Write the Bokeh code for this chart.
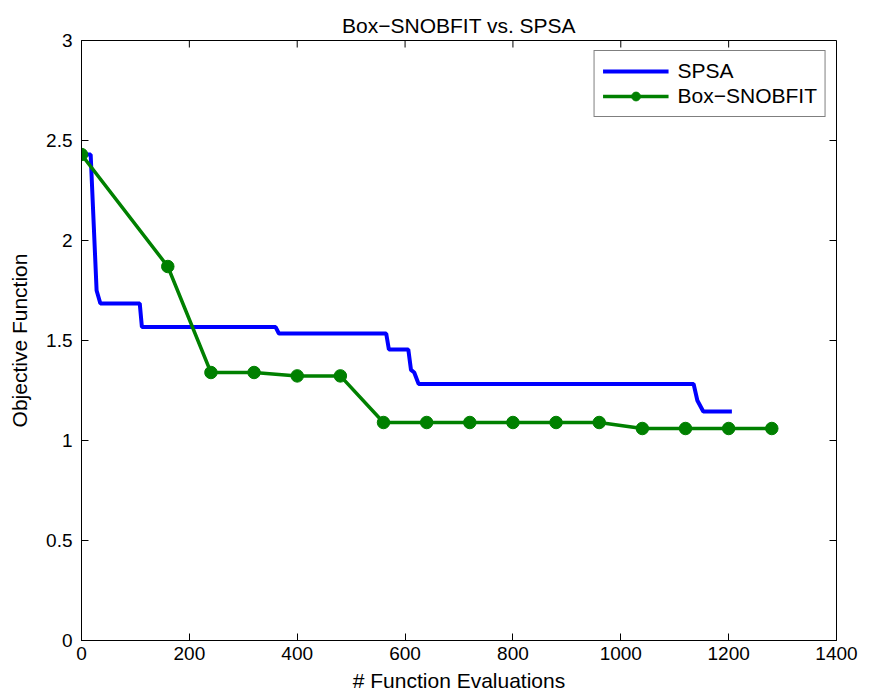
from bokeh.plotting import figure
from bokeh.models import Range1d, FixedTicker, Legend, LegendItem
from bokeh.embed import file_html
from bokeh.resources import INLINE

# SPSA curve (function evaluations vs objective)
spsa_x = [0, 17, 28, 35, 108, 112, 360, 366, 565, 570, 606, 611, 617, 625, 1135, 1142, 1153, 1206]
spsa_y = [2.43, 2.43, 1.75, 1.685, 1.685, 1.567, 1.567, 1.535, 1.535, 1.455, 1.455, 1.353, 1.34, 1.283, 1.283, 1.20, 1.145, 1.145]

# Box-SNOBFIT curve
snob_x = [0, 160, 240, 320, 400, 480, 560, 640, 720, 800, 880, 960, 1040, 1120, 1200, 1280]
snob_y = [2.43, 1.87, 1.34, 1.34, 1.323, 1.323, 1.09, 1.09, 1.09, 1.09, 1.09, 1.09, 1.06, 1.06, 1.06, 1.06]

x_ticks = [0, 200, 400, 600, 800, 1000, 1200, 1400]
y_ticks = [0, 0.5, 1, 1.5, 2, 2.5, 3]
y_tick_labels = {0: "0", 0.5: "0.5", 1: "1", 1.5: "1.5", 2: "2", 2.5: "2.5", 3: "3"}

FONT = "Liberation Sans"
X_MAX, Y_MAX = 1400, 3

p = figure(width=870, height=698, output_backend="svg", toolbar_location=None,
           x_range=Range1d(0, X_MAX), y_range=Range1d(0, Y_MAX),
           min_border_left=81, min_border_right=34, min_border_top=40, min_border_bottom=58,
           title="Box−SNOBFIT vs. SPSA")

p.title.align = "center"
p.title.text_font = FONT
p.title.text_font_size = "21px"
p.title.text_font_style = "normal"
p.title.text_color = "black"
p.title.offset = 0
p.title.standoff = 7

p.xgrid.visible = False
p.ygrid.visible = False
p.outline_line_color = "black"
p.outline_line_width = 1
p.background_fill_color = "white"
p.border_fill_color = "white"

for ax in (p.xaxis[0], p.yaxis[0]):
    ax.major_tick_in = 7
    ax.major_tick_out = 0
    ax.minor_tick_in = 0
    ax.minor_tick_out = 0
    ax.axis_line_color = "black"
    ax.major_tick_line_color = "black"
    ax.major_label_text_font = FONT
    ax.major_label_text_font_size = "19px"
    ax.major_label_text_color = "black"
    ax.axis_label_text_font = FONT
    ax.axis_label_text_font_size = "21px"
    ax.axis_label_text_font_style = "normal"
    ax.axis_label_text_color = "black"

p.xaxis[0].ticker = FixedTicker(ticks=x_ticks)
p.yaxis[0].ticker = FixedTicker(ticks=y_ticks)
p.yaxis[0].major_label_overrides = y_tick_labels
p.xaxis[0].axis_label = "# Function Evaluations"
p.yaxis[0].axis_label = "Objective Function"
p.xaxis[0].major_label_standoff = 6
p.xaxis[0].axis_label_standoff = 6
p.yaxis[0].major_label_standoff = 9
p.yaxis[0].axis_label_standoff = 12

# inward ticks on the top and right edges of the box (derived from the tick lists)
tick_len_y = 7 / 200.0   # about 7 px in y units
tick_len_x = 7 / 0.54    # about 7 px in x units
p.segment(x0=x_ticks, y0=[Y_MAX] * len(x_ticks), x1=x_ticks, y1=[Y_MAX - tick_len_y] * len(x_ticks),
          line_color="black", line_width=1)
p.segment(x0=[X_MAX] * len(y_ticks), y0=y_ticks, x1=[X_MAX - tick_len_x] * len(y_ticks), y1=y_ticks,
          line_color="black", line_width=1)

r_spsa = p.line(spsa_x, spsa_y, line_color="#0000FF", line_width=4)
r_snob_line = p.line(snob_x, snob_y, line_color="#008000", line_width=3.5)
r_snob_pts = p.scatter(snob_x, snob_y, marker="circle", size=12.5,
                       fill_color="#008000", line_color="#008000")

legend = Legend(items=[LegendItem(label="SPSA", renderers=[r_spsa]),
                       LegendItem(label="Box−SNOBFIT", renderers=[r_snob_line, r_snob_pts])],
                location="top_right")
legend.label_text_font = FONT
legend.label_text_font_size = "21px"
legend.label_text_color = "black"
legend.border_line_color = "black"
legend.border_line_width = 1
legend.glyph_width = 66
legend.glyph_height = 22
legend.label_height = 22
legend.label_standoff = 9
legend.spacing = 1
legend.padding = 8
legend.margin = 10
legend.background_fill_alpha = 1
p.add_layout(legend)

open("out.html", "w").write(file_html(p, INLINE))
